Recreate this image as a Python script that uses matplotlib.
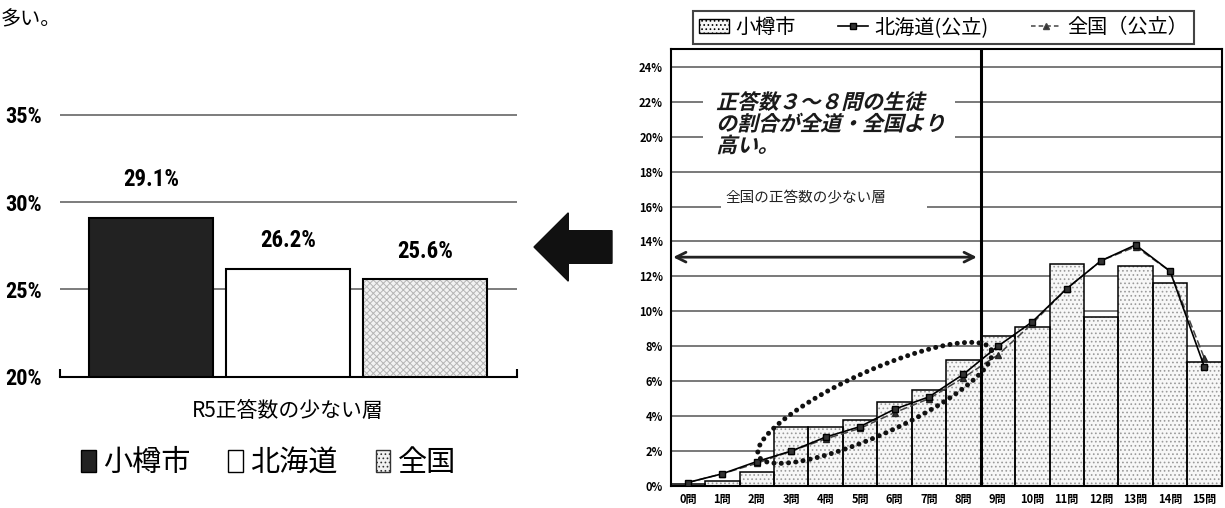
import numpy as np
import matplotlib
matplotlib.use("Agg")
import matplotlib.pyplot as plt
from matplotlib import font_manager
from matplotlib.patches import Rectangle, FancyArrow, PathPatch, Patch
from matplotlib.lines import Line2D
from matplotlib.textpath import TextPath
from matplotlib.font_manager import FontProperties
from matplotlib.transforms import Affine2D, ScaledTranslation

plt.rcParams["font.family"] = ["Noto Sans CJK JP", "DejaVu Sans"]
plt.rcParams["hatch.linewidth"] = 0.7

installed = {f.name for f in font_manager.fontManager.ttflist}
narrow = next((n for n in ["Liberation Sans Narrow", "DejaVu Sans Condensed",
                           "Roboto Condensed", "Liberation Sans"] if n in installed),
              "DejaVu Sans")

# R5 正答数の少ない層の割合 (%)
group_names = ["小樽市", "北海道", "全国"]
group_rates = [29.1, 26.2, 25.6]
group_ticks = [20, 25, 30, 35]
group_label = "R5正答数の少ない層"

# 正答数ごとの生徒の割合 (%)
questions = [f"{i}問" for i in range(16)]
otaru = [0.1, 0.3, 0.8, 3.4, 3.4, 3.8, 4.8, 5.5, 7.2, 8.6, 9.1, 12.7, 9.7, 12.6, 11.6, 7.1]
hokkaido = [0.2, 0.7, 1.4, 2.0, 2.8, 3.4, 4.4, 5.1, 6.4, 8.0, 9.4, 11.3, 12.9, 13.8, 12.3, 6.8]
zenkoku = [0.2, 0.7, 1.3, 2.0, 2.7, 3.3, 4.2, 5.0, 6.2, 7.5, 9.3, 11.3, 12.9, 13.7, 12.3, 7.3]
series_names = ["小樽市", "北海道(公立)", "全国（公立）"]
pct_ticks = list(range(0, 25, 2))

W, H = 1225, 508
fig = plt.figure(figsize=(W / 100, H / 100), dpi=100)


def px_box(x0, y_top, x1, y_bot):
    return [x0 / W, 1 - y_bot / H, (x1 - x0) / W, (y_bot - y_top) / H]


# ---- 左: 3地域の比較 ----
axl = fig.add_axes(px_box(60, 97.5, 516.7, 376.7))
xs = np.arange(len(group_rates))
axl.set_xlim(-0.664, 2.67)
axl.set_ylim(20, 36)
axl.set_axisbelow(True)
axl.yaxis.grid(True, color="#666666", lw=1.2)

fills = ["#222222", "white", "#f2f2f2"]
axl.bar(xs, group_rates, width=0.9, color=fills, hatch=[None, None, "xxxxx"],
        edgecolor=["#222222", "white", "#b5b5b5"], linewidth=0, zorder=2)
axl.bar(xs, group_rates, width=0.9, fill=False, edgecolor="black", linewidth=1.5, zorder=3)

label_offsets = [28, 20, 20]
for xi, v, off in zip(xs, group_rates, label_offsets):
    axl.annotate(f"{v}%", (xi, v), xytext=(0, off), textcoords="offset points",
                 ha="center", va="center", fontsize=16.5, fontweight="bold", family=narrow)

for s in ["top", "right", "left"]:
    axl.spines[s].set_visible(False)
axl.spines["bottom"].set_linewidth(1.5)
axl.vlines(axl.get_xlim(), 20, 20.45, color="black", lw=1.5, clip_on=False)

axl.set_yticks(group_ticks)
axl.set_yticklabels([f"{t}%" for t in group_ticks], fontsize=16,
                    fontweight="bold", family=narrow)
axl.set_xticks([1])
axl.set_xticklabels([group_label], fontsize=15)
axl.tick_params(axis="y", length=0, pad=13)
axl.tick_params(axis="x", length=0, pad=17)

left_handles = [Patch(facecolor=fills[0], edgecolor="black"),
                Patch(facecolor="white", edgecolor="black"),
                Patch(facecolor="#f2f2f2", edgecolor="#333333", hatch="....")]
fig.legend(left_handles, group_names, loc="center",
           bbox_to_anchor=(268.5 / W, 1 - 463 / H), ncol=3, frameon=False,
           fontsize=21, handlelength=0.5, handleheight=0.75,
           handletextpad=0.25, columnspacing=1.3)

# ---- 右: 正答数分布 ----
axr = fig.add_axes(px_box(670.7, 49.3, 1221.7, 486))
pos = np.arange(len(questions))
axr.set_xlim(-0.5, len(questions) - 0.5)
axr.set_ylim(0, 25)
axr.set_axisbelow(True)
axr.yaxis.grid(True, color="#555555", lw=1.1)

axr.bar(pos, otaru, width=1.0, color="#f7f7f7", hatch="....", edgecolor="#9a9a9a",
        linewidth=0, zorder=2)
axr.bar(pos, otaru, width=1.0, fill=False, edgecolor="black", linewidth=1.1, zorder=2.1)
axr.plot(pos, zenkoku, color="#444444", lw=1.1, ls=(0, (5, 2)), marker="^", ms=4.5,
         mfc="#333333", mec="#222222", zorder=4)
axr.plot(pos, hokkaido, color="black", lw=1.2, marker="s", ms=4.5,
         mfc="#333333", mec="black", zorder=4.1)

axr.axvline(8.5, color="black", lw=2.2, zorder=5)

for s in axr.spines.values():
    s.set_linewidth(1.5)
axr.set_yticks(pct_ticks)
axr.set_yticklabels([f"{t}%" for t in pct_ticks], fontsize=8, fontweight="bold")
axr.set_xticks(pos)
axr.set_xticklabels(questions, fontsize=8, fontweight="bold")
axr.tick_params(length=0)
axr.tick_params(axis="y", pad=5.5)
axr.tick_params(axis="x", pad=5)

# 正答数の少ない層の範囲
axr.annotate("", xy=(-0.43, 13.1), xytext=(8.39, 13.1),
             arrowprops=dict(arrowstyle="<->,head_length=0.7,head_width=0.35",
                             lw=2, color="#222222", shrinkA=0, shrinkB=0), zorder=6)

# 3〜8問を囲む点線の楕円
t = np.linspace(0, 2 * np.pi, 400)
cx, cy = 5.43, 4.76
ux, uy = 3.38, 3.04
vx, vy = -0.38, 1.66
axr.plot(cx + ux * np.cos(t) + vx * np.sin(t), cy + uy * np.cos(t) + vy * np.sin(t),
         color="#111111", lw=3.6, ls=(0, (0.01, 1.45)), dash_capstyle="round", zorder=7)

# コメント欄 (白抜き)
axr.add_patch(Rectangle((0.44, 18.7), 7.31, 4.25, facecolor="white", edgecolor="none", zorder=1.5))
axr.add_patch(Rectangle((0.96, 15.6), 5.98, 1.25, facecolor="white", edgecolor="none", zorder=1.5))
axr.text(1.08, 16.45, "全国の正答数の少ない層", fontsize=10.5, color="#222222",
         va="center", ha="left", zorder=6)

comment = ["正答数３～８問の生徒", "の割合が全道・全国より", "高い。"]
fp = FontProperties(family="Noto Sans CJK JP", weight="bold")
for i, line in enumerate(comment):
    tp = TextPath((0, 0), line, size=15, prop=fp)
    tr = (Affine2D().skew_deg(14, 0).scale(1 / 72) + fig.dpi_scale_trans
          + ScaledTranslation(0.82, 21.58 - 1.24 * i, axr.transData))
    fig.add_artist(PathPatch(tp, transform=tr, facecolor="#1a1a1a", edgecolor="none", zorder=8))

right_handles = [Patch(facecolor="#f7f7f7", edgecolor="black", hatch="...."),
                 Line2D([], [], color="black", lw=1.2, marker="s", ms=4.5, mfc="#333333"),
                 Line2D([], [], color="#444444", lw=1.1, ls=(0, (3, 2)), marker="^",
                        ms=4.5, mfc="#333333")]
leg = fig.legend(right_handles, series_names, loc="lower left",
                 bbox_to_anchor=(692.7 / W, 1 - 44.3 / H, 501.3 / W, 35.3 / H),
                 mode="expand", ncol=3, fontsize=14.5, fancybox=False,
                 edgecolor="#444444", framealpha=1, borderaxespad=0,
                 handlelength=1.5, handletextpad=0.3, borderpad=0.3)
leg.get_frame().set_linewidth(1.5)

# 中央の矢印と本文の断片
ov = fig.add_axes([0, 0, 1, 1])
ov.set_xlim(0, W)
ov.set_ylim(H, 0)
ov.axis("off")
ov.add_patch(FancyArrow(612, 247, -78, 0, width=32.6, head_width=68.3, head_length=34.3,
                        length_includes_head=True, color="#111111"))
ov.text(1, 20, "多い。", fontsize=14.5, va="center", ha="left")

fig.savefig("out.png", dpi=100)
